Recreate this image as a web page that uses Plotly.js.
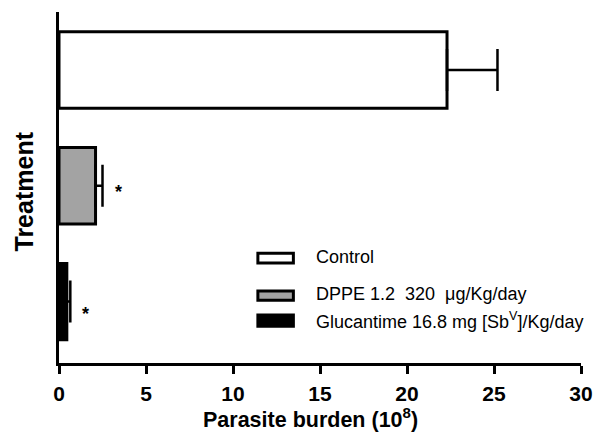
<!DOCTYPE html>
<html><head><meta charset="utf-8">
<script src="https://cdn.plot.ly/plotly-3.0.1.min.js"></script>
<style>body{margin:0;background:#fff}#c{width:596px;height:434px}</style>
</head><body><div id="c"></div>
<script>
const groups = ["Control", "DPPE 1.2  320  μg/Kg/day", "Glucantime 16.8 mg [Sb<sup>V</sup>]/Kg/day"];
const positions = [2, 1, 0];
const means = [22.3, 2.1, 0.45];
const errors = [2.9, 0.4, 0.2];
const fills = ["#ffffff", "#a3a3a3", "#000000"];
const stars = ["", "*", "*"];
const xTicks = [0, 5, 10, 15, 20, 25, 30];

const traces = groups.map((g, i) => ({
  type: "bar", orientation: "h",
  x: [means[i]], y: [positions[i]], width: 0.66,
  marker: {color: fills[i], line: {color: "#000", width: 3}},
  error_x: {type: "data", symmetric: false, array: [errors[i]], arrayminus: [0],
            color: "#000", thickness: 2.5, width: 21},
  showlegend: false, hoverinfo: "skip"
}));

const F = "Liberation Sans, Arial, sans-serif";
const annotations = [];
const starShift = [0, -6, -12];
stars.forEach((s, i) => {
  if (s) annotations.push({x: means[i] + errors[i] + 0.9, y: positions[i], xref: "x", yref: "y",
    yshift: starShift[i], text: "<b>*</b>", showarrow: false, font: {family: F, size: 18, color: "#000"}});
});
annotations.push({x: 0, y: 0.5, xref: "paper", yref: "paper", xanchor: "center", yanchor: "middle",
  xshift: -36, yshift: -4, textangle: -90,
  text: "<b>Treatment</b>", showarrow: false, font: {family: F, size: 25, color: "#000"}});
annotations.push({x: 0.5, y: 0, xref: "paper", yref: "paper", xanchor: "center", yanchor: "middle",
  xshift: -10, yshift: -55,
  text: "<b>Parasite burden (10<sup>8</sup>)</b>", showarrow: false, font: {family: F, size: 21.5, color: "#000"}});

// manual legend
const legY = [[0.285, 0.313], [0.179, 0.205], [0.105, 0.137]];
const legTextY = [0.302, 0.197, 0.1225];
const shapes = [];
groups.forEach((g, i) => {
  shapes.push({type: "rect", xref: "paper", yref: "paper", x0: 0.381, x1: 0.449,
    y0: legY[i][0], y1: legY[i][1], fillcolor: fills[i], line: {color: "#000", width: 3}});
  annotations.push({x: 0.4885, y: legTextY[i], xref: "paper", yref: "paper", xanchor: "left", yanchor: "middle",
    text: g, showarrow: false, font: {family: F, size: 18, color: "#000"}});
});

const layout = {
  width: 596, height: 434,
  margin: {l: 59, r: 15, t: 12, b: 71},
  paper_bgcolor: "#fff", plot_bgcolor: "#fff",
  showlegend: false,
  xaxis: {range: [0, 30], tickmode: "array", tickvals: xTicks, ticktext: xTicks.map(v => "<b>" + v + "</b>"),
    ticks: "outside", ticklen: 8, ticklabelstandoff: 2,
    tickwidth: 3, tickcolor: "#000", showline: true, linewidth: 3, linecolor: "#000",
    showgrid: false, zeroline: false,
    tickfont: {family: F, size: 21, color: "#000"}},
  yaxis: {range: [-0.53, 2.5], showticklabels: false, ticks: "", showline: true, linewidth: 3,
    linecolor: "#000", showgrid: false, zeroline: false},
  annotations: annotations, shapes: shapes
};
Plotly.newPlot("c", traces, layout, {displayModeBar: false, staticPlot: true});
</script></body></html>
